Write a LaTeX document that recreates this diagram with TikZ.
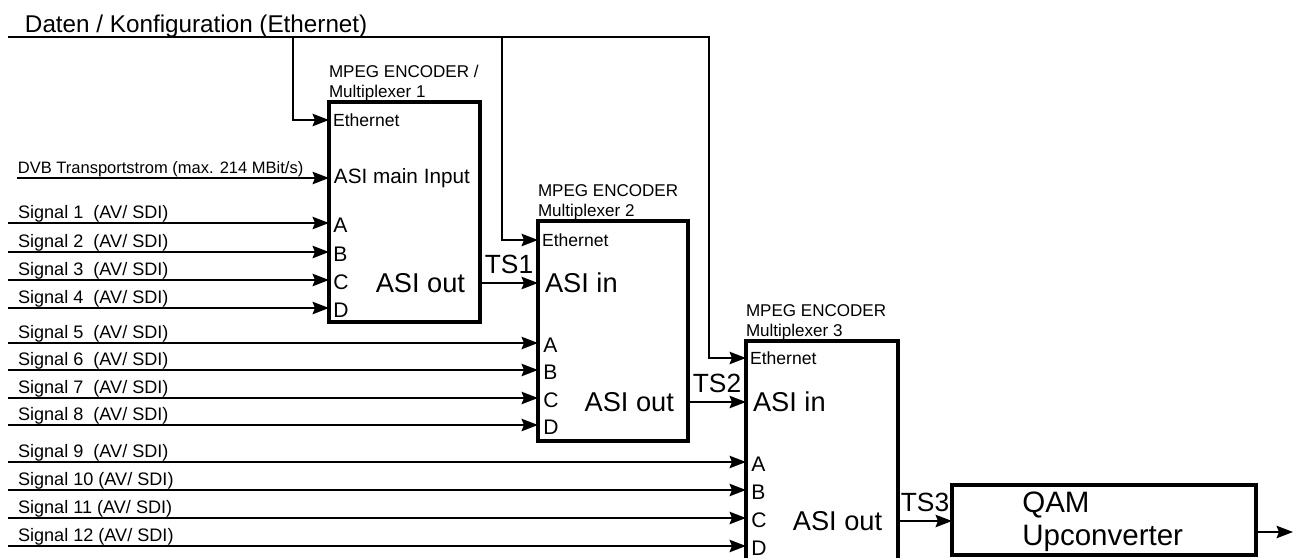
\documentclass[tikz,border=0pt]{standalone}
\usepackage{fontspec}
\setmainfont{Liberation Sans}
\usetikzlibrary{arrows.meta, positioning, fit}

\tikzset{
  every node/.style={inner sep=0pt, outer sep=0pt},
  box/.style={draw=black, line width=2pt, inner sep=0pt},
  wire/.style={line width=0.85pt},
  arr/.style={wire, -{Stealth[length=3.3mm, width=2.5mm, inset=0.5mm]}},
  bustitle/.style={font=\fontsize{13.8}{16}\selectfont},
  hdr/.style={font=\fontsize{9.7}{11.3}\selectfont, align=left},
  sig/.style={font=\fontsize{10.3}{12}\selectfont, pos=0, anchor=base west, xshift=5.7pt, yshift=2.3pt},
  dvbtxt/.style={sig, font=\fontsize{9.4}{11}\selectfont, xshift=-5.2pt},
  eth/.style={font=\fontsize{10}{12}\selectfont},
  maininp/.style={font=\fontsize{11.8}{14}\selectfont},
  port/.style={font=\fontsize{12}{14}\selectfont, yshift=-1.5pt},
  asi/.style={font=\fontsize{15.5}{18}\selectfont},
  ts/.style={font=\fontsize{15}{18}\selectfont, midway, above=5pt},
  qamtxt/.style={font=\fontsize{16.8}{18.8}\selectfont, align=left},
}

\begin{document}
\begin{tikzpicture}[x=0.02cm, y=-0.02cm]
  \clip (0,0) rectangle (1296,558);

  % Boxes
  \node[box, fit={(329,102) (480,322)}] (mux1) {};
  \node[box, fit={(538,221) (688,441)}] (mux2) {};
  \node[box, fit={(746,341) (898,600)}] (mux3) {};
  \node[box, fit={(952,485) (1256,555)}] (qam) {};

  % Box titles
  \node[hdr, above right=0.5pt and 0pt of mux1.north west] (h1) {MPEG ENCODER /\\Multiplexer 1};
  \node[hdr, above right=0.5pt and 0pt of mux2.north west] (h2) {MPEG ENCODER\\Multiplexer 2};
  \node[hdr, above right=0.5pt and 0pt of mux3.north west] (h3) {MPEG ENCODER\\Multiplexer 3};

  % Ports
  \coordinate (m1eth) at (mux1.west |- 0,120);
  \coordinate (m1in)  at (mux1.west |- 0,178);
  \coordinate (m1a) at (mux1.west |- 0,223); \coordinate (m1b) at (mux1.west |- 0,252);
  \coordinate (m1c) at (mux1.west |- 0,280); \coordinate (m1d) at (mux1.west |- 0,308);
  \coordinate (m1out) at (mux1.east |- 0,283);

  \coordinate (m2eth) at (mux2.west |- 0,240);
  \coordinate (m2in)  at (mux2.west |- 0,283);
  \coordinate (m2a) at (mux2.west |- 0,343); \coordinate (m2b) at (mux2.west |- 0,370);
  \coordinate (m2c) at (mux2.west |- 0,398); \coordinate (m2d) at (mux2.west |- 0,425);
  \coordinate (m2out) at (mux2.east |- 0,402);

  \coordinate (m3eth) at (mux3.west |- 0,358);
  \coordinate (m3in)  at (mux3.west |- 0,402);
  \coordinate (m3a) at (mux3.west |- 0,462); \coordinate (m3b) at (mux3.west |- 0,490);
  \coordinate (m3c) at (mux3.west |- 0,518); \coordinate (m3d) at (mux3.west |- 0,546);
  \coordinate (m3out) at (mux3.east |- 0,521);

  \coordinate (qamin) at (qam.west |- 0,521);
  \coordinate (qamout) at (qam.east |- 0,532);
  \coordinate (rf) at (1293,532);

  % Box texts
  \node[eth, right=2.3pt of m1eth] {Ethernet};
  \node[maininp, right=2.8pt of m1in] {ASI main Input};
  \node[port, right=2.5pt of m1a] {A};
  \node[port, right=2.5pt of m1b] {B};
  \node[port, right=2.5pt of m1c] {C};
  \node[port, right=2.5pt of m1d] {D};
  \node[asi, left=8.5pt of m1out] {ASI out};

  \node[eth, right=2.3pt of m2eth] {Ethernet};
  \node[asi, right=4pt of m2in] {ASI in};
  \node[port, right=3pt of m2a] {A};
  \node[port, right=3pt of m2b] {B};
  \node[port, right=3pt of m2c] {C};
  \node[port, right=3pt of m2d] {D};
  \node[asi, left=8pt of m2out] {ASI out};

  \node[eth, right=2.3pt of m3eth] {Ethernet};
  \node[asi, right=4pt of m3in] {ASI in};
  \node[port, right=3pt of m3a] {A};
  \node[port, right=3pt of m3b] {B};
  \node[port, right=3pt of m3c] {C};
  \node[port, right=3pt of m3d] {D};
  \node[asi, left=9pt of m3out] {ASI out};

  \node[qamtxt, right=40pt of qam.west, yshift=-0.8pt] {QAM\\Upconverter};

  % Ethernet bus
  \node[bustitle, anchor=base west] (bustxt) at (25,32) {Daten / Konfiguration (Ethernet)};
  \coordinate (b0) at (8,37);
  \coordinate (b1) at (293,37);
  \coordinate (b2) at (502,37);
  \coordinate (b3) at (709,37);
  \draw[arr] (b0) -- (b3) |- (m3eth);
  \draw[arr] (b1) |- (m1eth);
  \draw[arr] (b2) |- (m2eth);

  % Inputs
  \coordinate (dvb) at (17,178);
  \coordinate (s1) at (8,223);  \coordinate (s2) at (8,252);
  \coordinate (s3) at (8,280);  \coordinate (s4) at (8,308);
  \coordinate (s5) at (8,343);  \coordinate (s6) at (8,370);
  \coordinate (s7) at (8,398);  \coordinate (s8) at (8,425);
  \coordinate (s9) at (8,462);  \coordinate (s10) at (8,490);
  \coordinate (s11) at (8,518); \coordinate (s12) at (8,546);

  \draw[arr] (dvb) -- node[dvbtxt] {DVB Transportstrom (max. 214 MBit/s)} (m1in);
  \draw[arr] (s1) -- node[sig] {Signal 1\ \ (AV/ SDI)} (m1a);
  \draw[arr] (s2) -- node[sig] {Signal 2\ \ (AV/ SDI)} (m1b);
  \draw[arr] (s3) -- node[sig] {Signal 3\ \ (AV/ SDI)} (m1c);
  \draw[arr] (s4) -- node[sig] {Signal 4\ \ (AV/ SDI)} (m1d);
  \draw[arr] (s5) -- node[sig] {Signal 5\ \ (AV/ SDI)} (m2a);
  \draw[arr] (s6) -- node[sig] {Signal 6\ \ (AV/ SDI)} (m2b);
  \draw[arr] (s7) -- node[sig] {Signal 7\ \ (AV/ SDI)} (m2c);
  \draw[arr] (s8) -- node[sig] {Signal 8\ \ (AV/ SDI)} (m2d);
  \draw[arr] (s9) -- node[sig] {Signal 9\ \ (AV/ SDI)} (m3a);
  \draw[arr] (s10) -- node[sig] {Signal 10 (AV/ SDI)} (m3b);
  \draw[arr] (s11) -- node[sig] {Signal 11 (AV/ SDI)} (m3c);
  \draw[arr] (s12) -- node[sig] {Signal 12 (AV/ SDI)} (m3d);

  % Transport streams
  \draw[arr] (m1out) -- node[ts] {TS1} (m2in);
  \draw[arr] (m2out) -- node[ts] {TS2} (m3in);
  \draw[arr] (m3out) -- node[ts] {TS3} (qamin);
  \draw[arr] (qamout) -- (rf);
\end{tikzpicture}
\end{document}
